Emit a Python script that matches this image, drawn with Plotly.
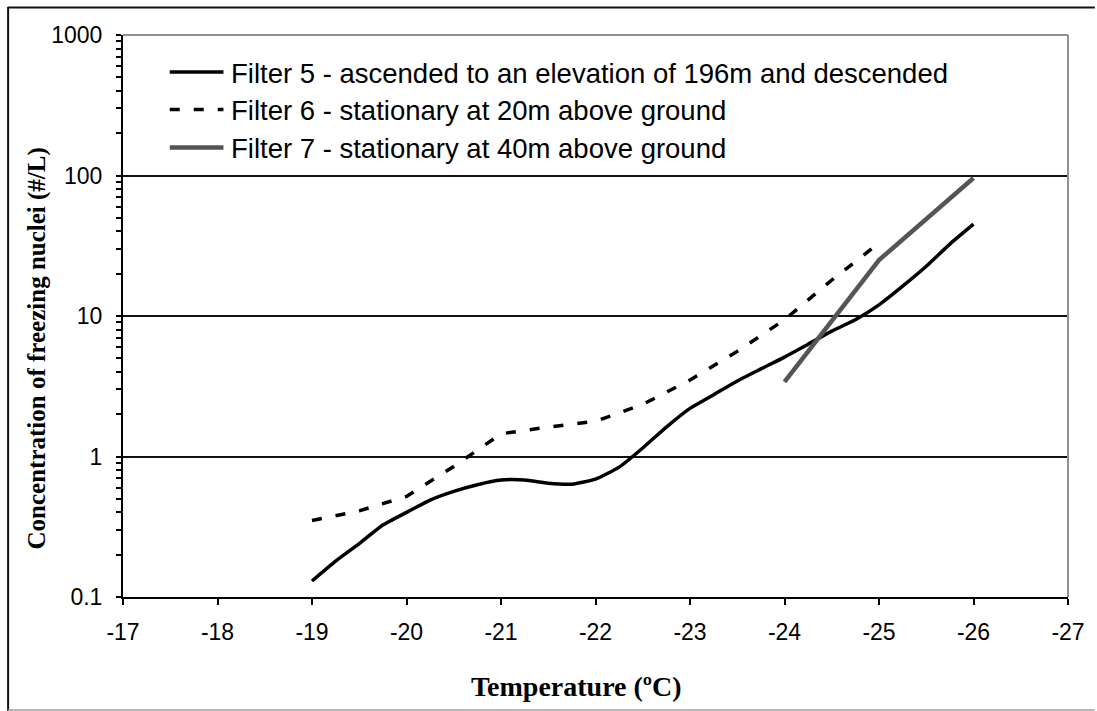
import plotly.graph_objects as go

# ---------------- data ----------------
temp5 = [-19.0, -19.25, -19.5, -19.75, -20.0, -20.25, -20.5, -20.75, -21.0, -21.25,
         -21.5, -21.75, -22.0, -22.25, -22.5, -22.75, -23.0, -23.25, -23.5, -23.75,
         -24.0, -24.25, -24.5, -24.75, -25.0, -25.25, -25.5, -25.75, -26.0]
conc5 = [0.13, 0.18, 0.24, 0.325, 0.40, 0.49, 0.565, 0.63, 0.68, 0.68,
         0.645, 0.635, 0.69, 0.84, 1.15, 1.62, 2.2, 2.75, 3.45, 4.2,
         5.1, 6.3, 7.8, 9.4, 12.0, 16.3, 22.6, 32.5, 45.0]

temp6 = [-19.0, -19.5, -20.0, -20.5, -21.0, -21.5, -22.0, -22.5, -23.0, -23.5, -24.0, -24.5, -25.0]
conc6 = [0.35, 0.41, 0.52, 0.85, 1.45, 1.62, 1.78, 2.35, 3.5, 5.6, 9.4, 18.0, 33.0]

temp7 = [-24.0, -25.0, -26.0]
conc7 = [3.4, 25.0, 96.0]

names = ["Filter 5 - ascended to an elevation of 196m and descended",
         "Filter 6 - stationary at 20m above ground",
         "Filter 7 - stationary at 40m above ground"]

x_ticks = [-17, -18, -19, -20, -21, -22, -23, -24, -25, -26, -27]
x_ticktext = ["-17", "-18", "-19", "-20", "-21", "-22", "-23", "-24", "-25", "-26", "-27"]
y_ticks = [0.1, 1, 10, 100, 1000]
y_ticktext = ["0.1", "1", "10", "100", "1000"]
y_minor = [m * 10.0 ** e for e in range(-1, 3) for m in range(2, 10)]

x_title = "Temperature (ºC)"
y_title = "Concentration of freezing nuclei (#/L)"

# ---------------- styling / geometry ----------------
W, H = 1097, 711
ML, MR, MT, MB = 123, 24, 35, 114
PW = W - ML - MR
PH = H - MT - MB


def xp(px):
    return (px - ML) / PW


def yp(py):
    return (H - MB - py) / PH


C5 = "#000000"
C6 = "#000000"
C7 = "#555555"
DASH6 = "10px,14px"

fig = go.Figure()
fig.add_trace(go.Scatter(x=temp5, y=conc5, mode="lines", name=names[0],
                         line=dict(color=C5, width=3.5, shape="spline", smoothing=0.5),
                         showlegend=False))
fig.add_trace(go.Scatter(x=temp6, y=conc6, mode="lines", name=names[1],
                         line=dict(color=C6, width=3.5, dash=DASH6),
                         showlegend=False))
fig.add_trace(go.Scatter(x=temp7, y=conc7, mode="lines", name=names[2],
                         line=dict(color=C7, width=4.5),
                         showlegend=False))

shapes = []
annotations = []

# plot frame (top and right grey)
shapes.append(dict(type="line", xref="paper", yref="paper", x0=0, x1=1, y0=1, y1=1,
                   line=dict(color="#919191", width=2), layer="above"))
shapes.append(dict(type="line", xref="paper", yref="paper", x0=1, x1=1, y0=0, y1=1,
                   line=dict(color="#919191", width=2), layer="above"))
# outer chart frame
shapes.append(dict(type="line", xref="paper", yref="paper", x0=xp(7), x1=xp(1100), y0=yp(7.5), y1=yp(7.5),
                   line=dict(color="#111111", width=2)))
shapes.append(dict(type="line", xref="paper", yref="paper", x0=xp(7.5), x1=xp(7.5), y0=yp(7), y1=yp(712),
                   line=dict(color="#111111", width=2)))
shapes.append(dict(type="line", xref="paper", yref="paper", x0=xp(7), x1=xp(1100), y0=yp(710), y1=yp(710),
                   line=dict(color="#a0a0a0", width=1.5)))

# manual legend
leg_rows = [72, 109.5, 147.5]
leg_styles = [dict(color=C5, width=3.5), dict(color=C6, width=3.5, dash=DASH6), dict(color=C7, width=4.5)]
for i in range(3):
    shapes.append(dict(type="line", xref="paper", yref="paper",
                       x0=xp(170), x1=xp(224), y0=yp(leg_rows[i]), y1=yp(leg_rows[i]),
                       line=leg_styles[i]))
    annotations.append(dict(xref="paper", yref="paper", x=xp(230), y=yp(leg_rows[i] + 1),
                            xanchor="left", yanchor="middle", showarrow=False, text=names[i],
                            font=dict(family="Liberation Sans, Arial", size=27.5, color="black")))

# axis titles
annotations.append(dict(xref="paper", yref="paper", x=xp(579), y=yp(686), xanchor="center", yanchor="middle",
                        showarrow=False, text="<b>" + x_title + "</b>",
                        font=dict(family="Liberation Serif, Times New Roman", size=28, color="black")))
annotations.append(dict(xref="paper", yref="paper", x=xp(37), y=yp(348), xanchor="center", yanchor="middle",
                        showarrow=False, text="<b>" + y_title + "</b>", textangle=-90,
                        font=dict(family="Liberation Serif, Times New Roman", size=25, color="black")))

fig.update_layout(
    width=W, height=H,
    margin=dict(l=ML, r=MR, t=MT, b=MB),
    paper_bgcolor="white", plot_bgcolor="white",
    showlegend=False,
    shapes=shapes, annotations=annotations,
    font=dict(family="Liberation Sans, Arial", color="black"),
)

fig.update_xaxes(
    range=[-17, -27], tickvals=x_ticks, ticktext=x_ticktext,
    showgrid=False, zeroline=False,
    showline=True, linecolor="black", linewidth=2,
    ticks="outside", ticklen=6, tickwidth=1.5, tickcolor="black",
    tickfont=dict(size=23, family="Liberation Sans, Arial", color="black"),
    ticklabelstandoff=7,
)
fig.update_yaxes(
    type="log", range=[-1, 3], tickvals=y_ticks, ticktext=y_ticktext,
    showgrid=True, gridcolor="#111111", gridwidth=1.5, zeroline=False,
    showline=True, linecolor="black", linewidth=2,
    ticks="outside", ticklen=5, tickwidth=1.5, tickcolor="black",
    minor=dict(tickvals=y_minor, ticks="outside", ticklen=5, tickwidth=1.5, tickcolor="black", showgrid=False),
    tickfont=dict(size=23, family="Liberation Sans, Arial", color="black"),
    ticklabelstandoff=9,
)

fig.write_html("out.html", config={"displayModeBar": False},
               post_script="document.body.style.margin='0';document.body.style.overflow='hidden';")
